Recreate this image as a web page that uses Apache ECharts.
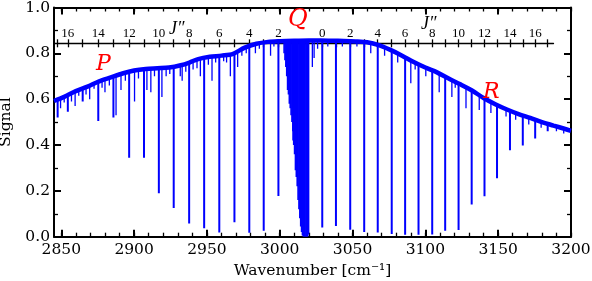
<!DOCTYPE html>
<html>
<head>
<meta charset="utf-8">
<script src="https://cdn.jsdelivr.net/npm/echarts@6/dist/echarts.min.js"></script>
<style>
  html, body { margin: 0; padding: 0; background: #fff; }
  #chart { width: 592px; height: 281px; }
</style>
</head>
<body>
<div id="chart"></div>
<script>
// band continuum (middle of the noisy upper edge)
const envX = [2845, 2852, 2860, 2868, 2876, 2884, 2892, 2900, 2908, 2916, 2924, 2932, 2938, 2944, 2952, 2960,
  2968, 2976, 2984, 2992, 3000, 3010, 3020, 3028, 3036, 3044, 3052, 3060, 3068, 3076, 3084, 3092, 3100, 3108,
  3116, 3124, 3132, 3140, 3148, 3156, 3164, 3172, 3180, 3188, 3196, 3200];
const envY = [0.592, 0.61, 0.635, 0.655, 0.678, 0.695, 0.712, 0.725, 0.732, 0.735, 0.738, 0.748, 0.76, 0.775, 0.785, 0.79,
  0.798, 0.825, 0.842, 0.85, 0.853, 0.855, 0.856, 0.856, 0.855, 0.854, 0.852, 0.848, 0.836, 0.815, 0.79, 0.762, 0.738, 0.717,
  0.69, 0.665, 0.638, 0.605, 0.578, 0.555, 0.535, 0.518, 0.5, 0.485, 0.47, 0.462];

// P branch lines, J'' = 17 .. 1
const pJ     = [17, 16, 15, 14, 13, 12, 11, 10, 9, 8, 7, 6, 5, 4, 3, 2, 1];
const pPos   = [2847.5, 2854.5, 2864.7, 2875.4, 2885.8, 2896.6, 2906.8, 2917.0, 2927.2, 2937.8, 2948.1, 2958.5, 2968.9, 2979.1, 2989.0, 2999.1, 3009.3];
const pDepth = [0.52, 0.545, 0.59, 0.505, 0.52, 0.345, 0.345, 0.19, 0.125, 0.058, 0.037, 0.018, 0.063, 0.017, 0.026, 0.178, 0.42];
const pTop   = [0.60, 0.615, 0.645, 0.675, 0.70, 0.72, 0.73, 0.735, 0.74, 0.755, 0.78, 0.79, 0.80, 0.83, 0.845, 0.853, 0.855];

// R branch lines, J'' = 0 .. 17
const rJ     = [0, 1, 2, 3, 4, 5, 6, 7, 8, 9, 10, 11, 12, 13, 14, 15, 16, 17];
const rPos   = [3029.2, 3038.6, 3048.4, 3058.0, 3067.3, 3076.9, 3086.1, 3095.3, 3104.7, 3113.6, 3122.8, 3131.8, 3140.6, 3149.2, 3158.1, 3166.9, 3175.4, 3184.0];
const rDepth = [0.04, 0.047, 0.03, 0.02, 0.018, 0.012, 0.008, 0.008, 0.01, 0.026, 0.029, 0.14, 0.177, 0.255, 0.377, 0.398, 0.428, 0.46];
const rTop   = [0.856, 0.855, 0.853, 0.85, 0.838, 0.812, 0.78, 0.75, 0.725, 0.70, 0.67, 0.64, 0.605, 0.575, 0.55, 0.53, 0.512, 0.495];

// Q branch, densely packed lines
const qPos   = [3003.0, 3003.6, 3004.2, 3004.8, 3005.4, 3006.0, 3006.6, 3007.2, 3007.8, 3008.4, 3009.0, 3009.6, 3010.2,
  3010.8, 3011.4, 3012.0, 3012.6, 3013.2, 3013.8, 3014.4, 3015.0, 3015.6, 3016.2, 3016.8, 3017.4, 3018.0, 3018.6, 3019.2, 3019.8];
const qDepth = [0.80, 0.77, 0.74, 0.70, 0.64, 0.62, 0.58, 0.56, 0.53, 0.50, 0.46, 0.40, 0.36,
  0.29, 0.26, 0.22, 0.16, 0.12, 0.08, 0.045, 0.02, 0.005, 0.0, 0.0, 0.0, 0.0, 0.0, 0.0, 0.01];

// weaker lines riding on the band
const wPos   = [2849.5, 2852.0, 2857.0, 2859.5, 2862.0, 2867.0, 2869.5, 2872.5, 2878.0, 2880.0, 2883.0, 2887.6, 2891.0,
  2894.0, 2900.3, 2903.0, 2908.8, 2911.5, 2914.0, 2919.1, 2922.0, 2924.5, 2931.7, 2933.0, 2935.5, 2940.5, 2943.2,
  2945.5, 2951.0, 2953.5, 2956.0, 2961.5, 2963.5, 2966.1, 2971.1, 2974.0, 2977.0, 2983.3, 2986.0, 2993.7, 2996.0,
  3022.4, 3023.6, 3026.0, 3033.0, 3043.0, 3053.0, 3062.5, 3072.0, 3081.0, 3090.0, 3093.0, 3100.3, 3109.5, 3118.2,
  3120.5, 3127.9, 3137.0, 3145.0, 3155.4, 3162.0, 3171.0, 3179.5, 3190.0, 3195.0];
const wDepth = [0.56, 0.585, 0.59, 0.57, 0.615, 0.62, 0.60, 0.645, 0.65, 0.63, 0.66, 0.53, 0.64,
  0.68, 0.59, 0.69, 0.64, 0.63, 0.70, 0.61, 0.70, 0.71, 0.70, 0.68, 0.72, 0.73, 0.735,
  0.70, 0.75, 0.68, 0.76, 0.765, 0.76, 0.70, 0.74, 0.79, 0.80, 0.80, 0.82, 0.79, 0.83,
  0.74, 0.78, 0.82, 0.83, 0.83, 0.83, 0.80, 0.79, 0.76, 0.67, 0.73, 0.70, 0.63, 0.61,
  0.65, 0.56, 0.553, 0.54, 0.524, 0.51, 0.49, 0.475, 0.46, 0.45];
const wTop   = [0.60, 0.61, 0.625, 0.63, 0.64, 0.655, 0.66, 0.67, 0.683, 0.69, 0.695, 0.70, 0.71,
  0.718, 0.725, 0.728, 0.732, 0.733, 0.734, 0.735, 0.736, 0.737, 0.748, 0.75, 0.754, 0.767, 0.775,
  0.778, 0.784, 0.786, 0.788, 0.791, 0.793, 0.796, 0.80, 0.818, 0.826, 0.84, 0.844, 0.85, 0.851,
  0.856, 0.856, 0.856, 0.855, 0.854, 0.852, 0.848, 0.824, 0.797, 0.768, 0.757, 0.738, 0.712, 0.685,
  0.678, 0.655, 0.612, 0.585, 0.555, 0.54, 0.52, 0.50, 0.48, 0.47];

const xMajor = [2850, 2900, 2950, 3000, 3050, 3100, 3150, 3200];
const xMinor = [2850, 2860, 2870, 2880, 2890, 2900, 2910, 2920, 2930, 2940, 2950, 2960, 2970, 2980, 2990, 3000,
  3010, 3020, 3030, 3040, 3050, 3060, 3070, 3080, 3090, 3100, 3110, 3120, 3130, 3140, 3150, 3160, 3170, 3180, 3190, 3200];

const BLUE = '#0000ff';
const SERIF = 'DejaVu Serif';

const envData = envX.map((x, i) => [x, envY[i]]);
const dips = [];
pPos.forEach((x, i) => dips.push([x, pDepth[i], pTop[i], 2]));
rPos.forEach((x, i) => dips.push([x, rDepth[i], rTop[i], 2]));
qPos.forEach((x, i) => dips.push([x, qDepth[i], 0.858, 1.6]));
wPos.forEach((x, i) => dips.push([x, wDepth[i], wTop[i], 1.3]));

// J'' tick positions and labels for the inner axis
const jTicks = pPos.concat(rPos);
const jLabelMap = {};
pPos.forEach((x, i) => { if (pJ[i] % 2 === 0) jLabelMap[x] = String(pJ[i]); });
rPos.forEach((x, i) => { if (rJ[i] % 2 === 0) jLabelMap[x] = String(rJ[i]); });
const jLabelVals = Object.keys(jLabelMap).map(Number);

const chart = echarts.init(document.getElementById('chart'), null, { renderer: 'canvas' });

const xmin = 2845, xmax = 3200, jmax = 3188;
// fixed pixel layout, no auto fitting of labels
const mainGrid = { left: 54, right: 21, top: 7.5, bottom: 44.3, outerBoundsMode: 'none', containLabel: false };
const jGrid = { left: 54, right: 38.5, top: 43.3, height: 100, outerBoundsMode: 'none', containLabel: false };
const black = (w) => ({ color: '#000', width: w });
const noLabel = { show: false };
const noSplit = { show: false };

chart.setOption({
  animation: false,
  grid: [mainGrid, Object.assign({}, mainGrid), jGrid, Object.assign({}, jGrid)],
  xAxis: [
    { // 0: bottom major + labels
      type: 'value', gridIndex: 0, position: 'bottom', min: xmin, max: xmax,
      axisLine: { onZero: false, lineStyle: black(2) },
      axisTick: { inside: true, length: 7, lineStyle: black(2), customValues: xMajor },
      axisLabel: { customValues: xMajor, color: '#000', fontFamily: SERIF, fontSize: 15.5, margin: 5,
        formatter: (v) => String(v) },
      splitLine: noSplit,
      name: 'Wavenumber [cm⁻¹]', nameLocation: 'middle', nameGap: 24,
      nameTextStyle: { color: '#000', fontFamily: SERIF, fontSize: 15.5 },
    },
    { // 1: top major
      type: 'value', gridIndex: 0, position: 'top', min: xmin, max: xmax,
      axisLine: { onZero: false, lineStyle: black(2) },
      axisTick: { inside: true, length: 7, lineStyle: black(2), customValues: xMajor },
      axisLabel: noLabel, splitLine: noSplit,
    },
    { // 2: bottom minor
      type: 'value', gridIndex: 1, position: 'bottom', min: xmin, max: xmax,
      axisLine: { show: false, onZero: false },
      axisTick: { inside: true, length: 4, lineStyle: black(1.3), customValues: xMinor },
      axisLabel: noLabel, splitLine: noSplit,
    },
    { // 3: top minor
      type: 'value', gridIndex: 1, position: 'top', min: xmin, max: xmax,
      axisLine: { show: false, onZero: false },
      axisTick: { inside: true, length: 4, lineStyle: black(1.3), customValues: xMinor },
      axisLabel: noLabel, splitLine: noSplit,
    },
    { // 4: J'' axis, ticks up + labels
      type: 'value', gridIndex: 2, position: 'top', min: xmin, max: jmax,
      axisLine: { onZero: false, lineStyle: black(1.3) },
      axisTick: { inside: false, length: 4, lineStyle: black(1.3), customValues: jTicks },
      axisLabel: {
        customValues: jLabelVals, color: '#000', fontFamily: 'Liberation Serif', fontSize: 13, margin: 3,
        formatter: (v) => jLabelMap[v] || '',
      },
      splitLine: noSplit,
    },
    { // 5: J'' axis, ticks down
      type: 'value', gridIndex: 3, position: 'top', min: xmin, max: jmax,
      axisLine: { show: false, onZero: false },
      axisTick: { inside: true, length: 4, lineStyle: black(1.3), customValues: jTicks },
      axisLabel: noLabel, splitLine: noSplit,
    },
  ],
  yAxis: [
    {
      type: 'value', gridIndex: 0, position: 'left', min: 0, max: 1, interval: 0.2,
      axisLine: { show: true, onZero: false, lineStyle: black(2) },
      axisTick: { inside: true, length: 7, lineStyle: black(2) },
      minorTick: { show: true, splitNumber: 2, length: 4, lineStyle: black(1.3) },
      axisLabel: { color: '#000', fontFamily: SERIF, fontSize: 15.5, margin: 4, formatter: (v) => v.toFixed(1) },
      splitLine: noSplit,
      name: 'Signal', nameLocation: 'middle', nameGap: 30,
      nameTextStyle: { color: '#000', fontFamily: SERIF, fontSize: 15.5 },
    },
    {
      type: 'value', gridIndex: 0, position: 'right', min: 0, max: 1, interval: 0.2,
      axisLine: { show: true, onZero: false, lineStyle: black(2) },
      axisTick: { inside: true, length: 7, lineStyle: black(2) },
      minorTick: { show: true, splitNumber: 2, length: 4, lineStyle: black(1.3) },
      axisLabel: noLabel, splitLine: noSplit,
    },
    { type: 'value', gridIndex: 1, min: 0, max: 1, show: false },
    { type: 'value', gridIndex: 2, min: 0, max: 1, show: false },
    { type: 'value', gridIndex: 3, min: 0, max: 1, show: false },
  ],
  series: [
    {
      type: 'custom', xAxisIndex: 0, yAxisIndex: 0, clip: true,
      data: dips,
      renderItem: (params, api) => {
        const a = api.coord([api.value(0), api.value(1)]);
        const b = api.coord([api.value(0), api.value(2)]);
        return {
          type: 'line',
          shape: { x1: a[0], y1: a[1], x2: b[0], y2: b[1] },
          style: { stroke: BLUE, lineWidth: api.value(3) },
        };
      },
    },
    {
      type: 'line', xAxisIndex: 0, yAxisIndex: 0, data: envData,
      smooth: 0.3, showSymbol: false,
      lineStyle: { color: BLUE, width: 4.5 },
    },
  ],
  graphic: [
    { type: 'text', left: 96, top: 53, z: 100,
      style: { text: 'P', fill: '#ff0000', font: 'italic 22px "DejaVu Serif"' } },
    { type: 'text', left: 288, top: 8, z: 100,
      style: { text: 'Q', fill: '#ff0000', font: 'italic 24px "DejaVu Serif"' } },
    { type: 'text', left: 483, top: 81, z: 100,
      style: { text: 'R', fill: '#ff0000', font: 'italic 22px "DejaVu Serif"' } },
    { type: 'text', left: 169, top: 20, z: 100,
      style: { text: 'J″', fill: '#000', font: 'italic 18px "Liberation Serif"' } },
    { type: 'text', left: 421, top: 15, z: 100,
      style: { text: 'J″', fill: '#000', font: 'italic 18px "Liberation Serif"' } },
  ],
});
</script>
</body>
</html>
